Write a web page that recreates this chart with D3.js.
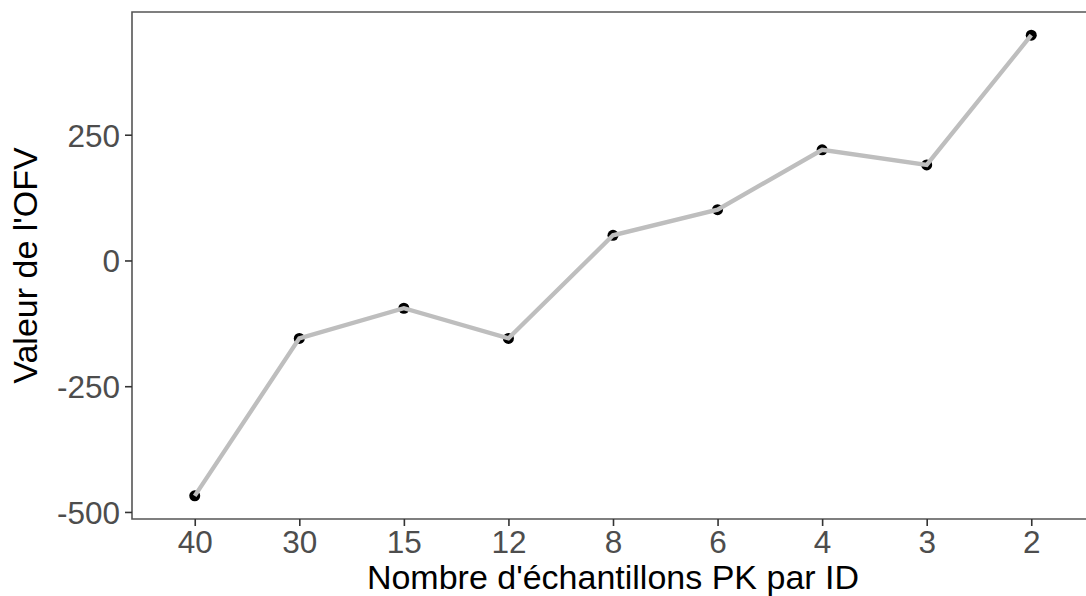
<!DOCTYPE html>
<html>
<head>
  <title></title>
  <style type="text/css">
    body { margin: 0; background: #fff; }
    text { font-family: "Liberation Sans", Arial, sans-serif; }
  </style>
</head>
<body>
  <div id="my_dataviz"></div>
</body>
<script src="https://d3js.org/d3.v7.min.js"></script>
<script type="text/javascript">

  // samples per ID (x categories) and OFV values
  var categories = ["40", "30", "15", "12", "8", "6", "4", "3", "2"];
  var ofv = [-468, -155, -95, -155, 50, 101, 220, 190, 448];
  var yTicks = [-500, -250, 0, 250];

  function draw() {
    var W = 1086, H = 596;
    var pLeft = 132, pTop = 12, pRight = 1094, pBottom = 519;

    var svg = d3.select("#my_dataviz")
      .append("svg")
        .attr("width", W)
        .attr("height", H);

    var x = d3.scalePoint()
      .domain(categories)
      .range([pLeft, pRight])
      .padding(0.6);

    var y = d3.scaleLinear()
      .domain([-514, 494])
      .range([pBottom, pTop]);

    // panel border (left, top, bottom)
    svg.append("path")
      .attr("d", "M" + pRight + "," + pTop + "H" + pLeft + "V" + pBottom + "H" + pRight)
      .attr("fill", "none")
      .attr("stroke", "#555")
      .attr("stroke-width", 1.6);

    // x axis
    var xAxis = svg.append("g")
      .attr("transform", "translate(0," + pBottom + ")")
      .call(d3.axisBottom(x).tickSize(7).tickPadding(5));
    xAxis.select(".domain").remove();
    xAxis.selectAll("line").attr("stroke", "#333").attr("stroke-width", 1.6);
    xAxis.selectAll("text").attr("fill", "#4d4d4d").style("font-size", "31.5px");

    // y axis (plain hyphen for negatives, like the original)
    var yAxis = svg.append("g")
      .attr("transform", "translate(" + pLeft + ",0)")
      .call(d3.axisLeft(y).tickValues(yTicks).tickFormat(function(d) { return String(d); })
        .tickSize(7).tickPadding(5));
    yAxis.select(".domain").remove();
    yAxis.selectAll("line").attr("stroke", "#333").attr("stroke-width", 1.6);
    yAxis.selectAll("text").attr("fill", "#4d4d4d").style("font-size", "31.5px")
      .attr("dy", "0.36em");

    var pts = categories.map(function(c, i) { return {k: c, v: ofv[i]}; });

    // points first, line drawn over them
    svg.append("g")
      .selectAll("circle")
      .data(pts)
      .enter().append("circle")
        .attr("cx", function(d) { return x(d.k); })
        .attr("cy", function(d) { return y(d.v); })
        .attr("r", 5.5)
        .attr("fill", "#000");

    svg.append("path")
      .datum(pts)
      .attr("fill", "none")
      .attr("stroke", "#bebebe")
      .attr("stroke-width", 4.3)
      .attr("d", d3.line()
        .x(function(d) { return x(d.k); })
        .y(function(d) { return y(d.v); }));

    // axis titles
    svg.append("text")
      .attr("x", (pLeft + pRight) / 2)
      .attr("y", 589)
      .attr("text-anchor", "middle")
      .style("font-size", "34px")
      .text("Nombre d'échantillons PK par ID");

    svg.append("text")
      .attr("transform", "translate(37," + ((pTop + pBottom) / 2) + ") rotate(-90)")
      .attr("text-anchor", "middle")
      .style("font-size", "34px")
      .text("Valeur de l'OFV");
  }

  draw();

</script>
</html>
